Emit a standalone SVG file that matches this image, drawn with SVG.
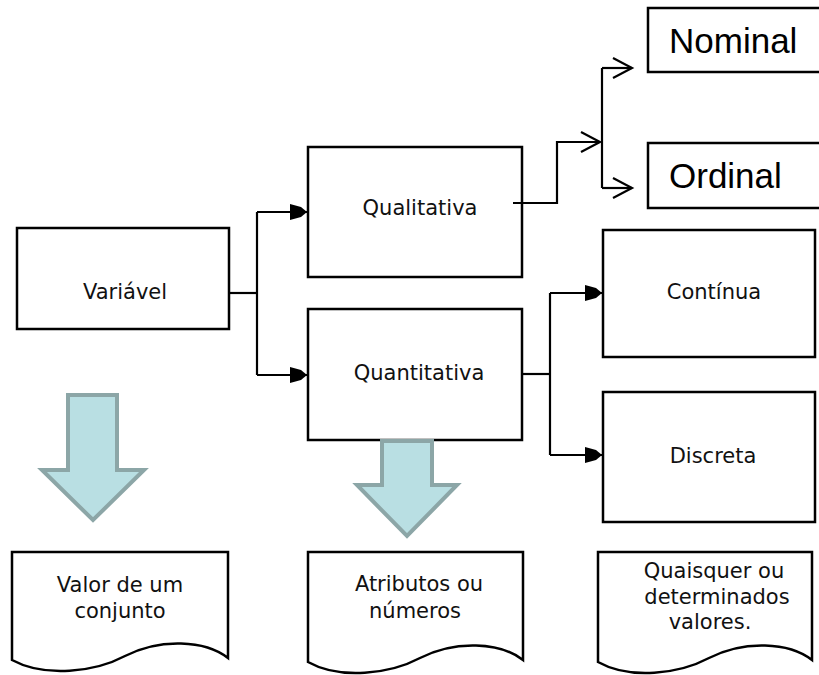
<svg xmlns="http://www.w3.org/2000/svg" width="819" height="675" viewBox="0 0 819 675">
<defs>
<style>
.box{fill:#fff;stroke:#000;stroke-width:2.5}
.lbl{font-family:"DejaVu Sans",sans-serif;font-size:21px;fill:#111;text-anchor:middle}
.big{font-family:"Liberation Sans",Arial,sans-serif;font-size:35px;fill:#000}
.con{fill:none;stroke:#000;stroke-width:2.2}
.barrow{fill:#b9dfe3;stroke:#8ca6a7;stroke-width:4;stroke-linejoin:miter}
</style>
<marker id="fa" markerUnits="userSpaceOnUse" markerWidth="20" markerHeight="20" viewBox="-17 -10 20 20" refX="0" refY="0" orient="auto">
<path d="M-17,-8 L-6,-5 L0,0 L-6,5 L-17,8 Z" fill="#000"/>
</marker>
<marker id="oa" markerUnits="userSpaceOnUse" markerWidth="24" markerHeight="24" viewBox="-21 -12 24 24" refX="0" refY="0" orient="auto">
<path d="M-19,-10 L0,0 L-19,10" fill="none" stroke="#000" stroke-width="2.2"/>
</marker>
</defs>
<rect width="819" height="675" fill="#fff"/>

<g id="nominal">
<rect class="box" x="648" y="8" width="180" height="64"/>
<text class="big" x="669" y="53">Nominal</text>
</g>
<g id="ordinal">
<rect class="box" x="648" y="143" width="180" height="65"/>
<text class="big" x="669" y="188">Ordinal</text>
</g>

<g id="variavel">
<rect class="box" x="17" y="228" width="212" height="101"/>
<text class="lbl" x="125" y="299">Variável</text>
</g>
<g id="qualitativa">
<rect class="box" x="308" y="147" width="214" height="130"/>
<text class="lbl" x="420" y="215">Qualitativa</text>
</g>
<g id="quantitativa">
<rect class="box" x="308" y="309" width="214" height="131"/>
<text class="lbl" x="419" y="380">Quantitativa</text>
</g>
<g id="continua">
<rect class="box" x="603" y="230" width="212" height="127"/>
<text class="lbl" x="714" y="299">Contínua</text>
</g>
<g id="discreta">
<rect class="box" x="603" y="392" width="212" height="130"/>
<text class="lbl" x="713" y="463">Discreta</text>
</g>

<g id="arrow-left">
<path class="barrow" d="M68,395 H117 V470 H144 L93,520 L42,470 H68 Z"/>
</g>
<g id="arrow-mid">
<path class="barrow" d="M382,441 H432 V485 H457 L407,536 L357,485 H382 Z"/>
</g>

<g id="doc-left">
<path class="box" d="M12,552 H228 V658 C205,640 160,638 125,656 C95,672 45,678 12,660 Z"/>
<text class="lbl" x="120" y="592">Valor de um</text>
<text class="lbl" x="120" y="618">conjunto</text>
</g>
<g id="doc-mid">
<path class="box" d="M308,552 H523 V660 C500,642 455,640 420,658 C390,674 340,680 308,662 Z"/>
<text class="lbl" x="419" y="591">Atributos ou</text>
<text class="lbl" x="415" y="618">números</text>
</g>
<g id="doc-right">
<path class="box" d="M598,552 H812 V660 C789,642 744,640 709,658 C679,674 630,680 598,662 Z"/>
<text class="lbl" x="714" y="578">Quaisquer ou</text>
<text class="lbl" x="717" y="604">determinados</text>
<text class="lbl" x="710" y="629">valores.</text>
</g>

<g id="connectors">
<path class="con" d="M229,293 H257"/>
<path class="con" d="M257,212 V375"/>
<path class="con" d="M257,212 H307" marker-end="url(#fa)"/>
<path class="con" d="M257,375 H307" marker-end="url(#fa)"/>
<path class="con" d="M513,203 H557 V142 H600" marker-end="url(#oa)"/>
<path class="con" d="M602,68 V188"/>
<path class="con" d="M602,68 H632" marker-end="url(#oa)"/>
<path class="con" d="M602,188 H632" marker-end="url(#oa)"/>
<path class="con" d="M522,374 H550"/>
<path class="con" d="M550,293 V455"/>
<path class="con" d="M550,293 H602" marker-end="url(#fa)"/>
<path class="con" d="M550,455 H602" marker-end="url(#fa)"/>
</g>
</svg>
